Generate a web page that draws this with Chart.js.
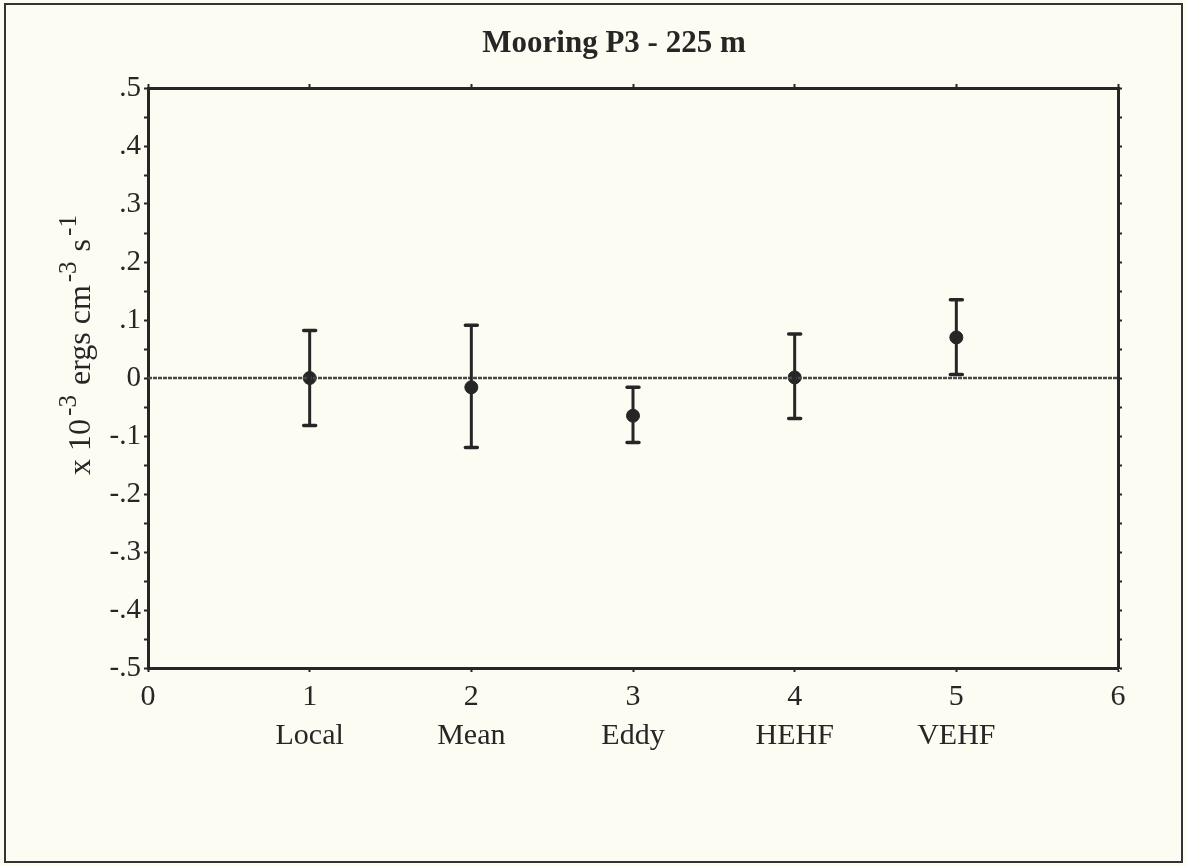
<!DOCTYPE html>
<html>
<head>
<meta charset="utf-8">
<script src="https://cdn.jsdelivr.net/npm/chart.js@4/dist/chart.umd.min.js"></script>
<style>
  html, body { margin: 0; padding: 0; background: #fcfcf2; }
  canvas { display: block; }
</style>
</head>
<body>
<canvas id="chart" width="1187" height="866"></canvas>
<script>
// Energy conversion terms at mooring P3, 225 m depth
const chartTitle = 'Mooring P3 - 225 m';
const termPositions = [1, 2, 3, 4, 5];
const termNames = ['Local', 'Mean', 'Eddy', 'HEHF', 'VEHF'];
const termMeans = [0.000, -0.016, -0.065, 0.001, 0.070];
const termUpper = [0.082, 0.091, -0.016, 0.076, 0.135];
const termLower = [-0.082, -0.120, -0.111, -0.070, 0.006];
const zeroLine = [0, 0];
const xRange = [0, 6];
const yRange = [-0.5, 0.5];
// y-axis title pieces: [text, isSuperscript]
const yTitleParts = [['x 10', false], ['-3', true], [' ergs cm', false], ['-3', true], [' s', false], ['-1', true]];

const INK = '#262626';
const SERIF = '"Liberation Serif", "Times New Roman", serif';

function formatTick(v) {
  const hundredths = Math.round(v * 100);
  if (hundredths % 10 !== 0) return '';
  if (hundredths === 0) return '0';
  const digit = Math.abs(hundredths / 10);
  return (hundredths < 0 ? '-.' : '.') + digit;
}

const framePlugin = {
  id: 'frame',
  beforeDraw(chart) {
    const ctx = chart.ctx;
    ctx.save();
    ctx.fillStyle = '#fcfcf2';
    ctx.fillRect(0, 0, chart.width, chart.height);
    ctx.strokeStyle = '#333333';
    ctx.lineWidth = 2;
    ctx.strokeRect(5, 4, chart.width - 10, chart.height - 8);
    ctx.restore();
  },
  afterDraw(chart) {
    const ctx = chart.ctx;
    const area = chart.chartArea;
    ctx.save();
    // chart title
    ctx.fillStyle = INK;
    ctx.font = 'bold 31px ' + SERIF;
    ctx.textAlign = 'center';
    ctx.textBaseline = 'middle';
    ctx.fillText(chartTitle, (area.left + area.right) / 2 - 19, 44);

    // rotated y-axis title with superscripts
    const mainFont = '32px ' + SERIF;
    const supFont = '25px ' + SERIF;
    let total = 0;
    const widths = yTitleParts.map(([t, sup]) => {
      ctx.font = sup ? supFont : mainFont;
      const w = ctx.measureText(t).width + (sup ? 5 : 0);
      total += w;
      return w;
    });
    ctx.translate(area.left - 58, (area.top + area.bottom) / 2 - 34);
    ctx.rotate(-Math.PI / 2);
    ctx.textAlign = 'left';
    ctx.textBaseline = 'alphabetic';
    let u = -total / 2;
    yTitleParts.forEach(([t, sup], i) => {
      ctx.font = sup ? supFont : mainFont;
      ctx.fillText(t, u + (sup ? 3 : 0), sup ? -14 : 0);
      u += widths[i];
    });
    ctx.restore();
  }
};

const errorBarPlugin = {
  id: 'errorBars',
  afterDatasetsDraw(chart) {
    const ctx = chart.ctx;
    const xs = chart.scales.x;
    const ys = chart.scales.y;
    ctx.save();
    ctx.strokeStyle = INK;
    termPositions.forEach((p, i) => {
      const px = xs.getPixelForValue(p);
      const top = ys.getPixelForValue(termUpper[i]);
      const bot = ys.getPixelForValue(termLower[i]);
      ctx.lineWidth = 3;
      ctx.lineCap = 'butt';
      ctx.beginPath();
      ctx.moveTo(px, top);
      ctx.lineTo(px, bot);
      ctx.stroke();
      ctx.lineWidth = 3.5;
      ctx.lineCap = 'round';
      ctx.beginPath();
      ctx.moveTo(px - 6, top);
      ctx.lineTo(px + 6, top);
      ctx.moveTo(px - 6, bot);
      ctx.lineTo(px + 6, bot);
      ctx.stroke();
    });
    ctx.restore();
  }
};

const axisCommon = {
  border: { display: true, color: INK, width: 3 },
  grid: { drawOnChartArea: false, drawTicks: true, tickLength: 4, tickColor: INK, tickWidth: 2 }
};

new Chart(document.getElementById('chart'), {
  type: 'scatter',
  data: {
    datasets: [
      {
        type: 'line',
        data: xRange.map((x, i) => ({ x: x, y: zeroLine[i] })),
        borderColor: '#4a4a4a',
        borderWidth: 2.5,
        borderDash: [4, 1],
        pointRadius: 0,
        xAxisID: 'x',
        yAxisID: 'y'
      },
      {
        data: termPositions.map((p, i) => ({ x: p, y: termMeans[i] })),
        backgroundColor: INK,
        borderColor: INK,
        pointRadius: 6.5,
        pointHoverRadius: 6.5,
        xAxisID: 'x',
        yAxisID: 'y'
      }
    ]
  },
  options: {
    responsive: false,
    animation: false,
    layout: { padding: 0 },
    plugins: { legend: { display: false }, tooltip: { enabled: false }, title: { display: false } },
    scales: {
      x: {
        ...axisCommon,
        type: 'linear', position: 'bottom',
        min: xRange[0], max: xRange[1],
        afterFit: s => { s.height = 198; },
        ticks: {
          stepSize: 1, padding: 6, color: INK,
          font: { family: SERIF, size: 30, lineHeight: 1.3 },
          maxRotation: 0, autoSkip: false,
          callback: v => {
            const idx = termPositions.indexOf(v);
            return idx >= 0 ? [String(v), termNames[idx]] : String(v);
          }
        }
      },
      xTop: {
        ...axisCommon,
        type: 'linear', position: 'top',
        min: xRange[0], max: xRange[1],
        afterFit: s => { s.height = 88; },
        ticks: { stepSize: 1, display: false }
      },
      y: {
        ...axisCommon,
        type: 'linear', position: 'left',
        min: yRange[0], max: yRange[1],
        afterFit: s => { s.width = 148; },
        ticks: {
          stepSize: 0.05, padding: 3, color: INK, autoSkip: false,
          font: { family: SERIF, size: 29 },
          callback: v => formatTick(v)
        }
      },
      yRight: {
        ...axisCommon,
        type: 'linear', position: 'right',
        min: yRange[0], max: yRange[1],
        afterFit: s => { s.width = 69; },
        ticks: { stepSize: 0.05, display: false, autoSkip: false }
      }
    }
  },
  plugins: [framePlugin, errorBarPlugin]
});
</script>
</body>
</html>
